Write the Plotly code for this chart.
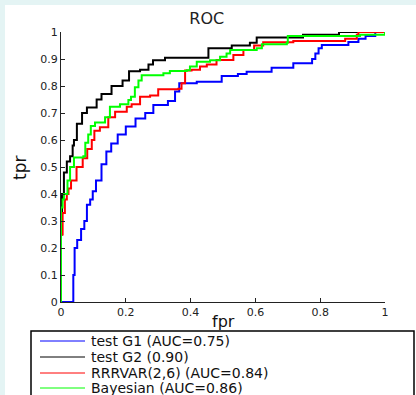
import plotly.graph_objects as go

# ---------------- data ----------------
series_names = ["test G1 (AUC=0.75)", "test G2 (0.90)", "RRRVAR(2,6) (AUC=0.84)", "Bayesian (AUC=0.86)"]
series_colors = ["#0000ff", "#000000", "#ff0000", "#00ff00"]

g1_fpr = [0, 0.038, 0.042, 0.05, 0.062, 0.072, 0.08, 0.09, 0.098, 0.108, 0.125, 0.14, 0.155, 0.175, 0.2,
          0.23, 0.26, 0.285, 0.33, 0.352, 0.365, 0.419, 0.496, 0.546, 0.573, 0.65, 0.717, 0.775, 0.785,
          0.795, 0.805, 0.887, 0.918, 0.94, 0.97, 1.0]
g1_tpr = [0, 0.1, 0.2, 0.23, 0.27, 0.3, 0.36, 0.38, 0.41, 0.45, 0.51, 0.557, 0.587, 0.62, 0.65,
          0.68, 0.70, 0.73, 0.744, 0.78, 0.81, 0.816, 0.837, 0.844, 0.853, 0.868, 0.884, 0.90, 0.92,
          0.94, 0.952, 0.963, 0.975, 0.985, 1.0, 1.0]

g2_fpr = [0, 0, 0.003, 0.009, 0.018, 0.028, 0.036, 0.04, 0.049, 0.065, 0.08, 0.11, 0.125, 0.156, 0.19,
          0.21, 0.244, 0.27, 0.284, 0.321, 0.455, 0.527, 0.583, 0.604, 0.747, 0.858, 1.0]
g2_tpr = [0, 0.25, 0.4, 0.48, 0.52, 0.54, 0.58, 0.6, 0.66, 0.70, 0.72, 0.75, 0.77, 0.80, 0.82,
          0.855, 0.86, 0.88, 0.895, 0.905, 0.94, 0.95, 0.96, 0.98, 0.99, 1.0, 1.0]

rr_fpr = [0, 0, 0.005, 0.012, 0.018, 0.023, 0.031, 0.048, 0.067, 0.081, 0.095, 0.103, 0.12, 0.146, 0.167,
          0.203, 0.218, 0.244, 0.275, 0.3, 0.362, 0.372, 0.383, 0.403, 0.429, 0.45, 0.48, 0.532, 0.563,
          0.596, 0.624, 0.717, 0.877, 0.913, 0.918, 1.0]
rr_tpr = [0, 0.25, 0.33, 0.38, 0.4, 0.42, 0.45, 0.5, 0.532, 0.567, 0.6, 0.634, 0.647, 0.684, 0.705,
          0.723, 0.732, 0.76, 0.765, 0.788, 0.79, 0.81, 0.857, 0.86, 0.872, 0.88, 0.896, 0.915, 0.933,
          0.95, 0.962, 0.967, 0.975, 0.99, 1.0, 1.0]

by_fpr = [0, 0, 0.005, 0.009, 0.02, 0.028, 0.04, 0.069, 0.075, 0.084, 0.092, 0.105, 0.136, 0.151, 0.182,
          0.208, 0.216, 0.228, 0.239, 0.249, 0.316, 0.336, 0.388, 0.398, 0.419, 0.46, 0.491, 0.511, 0.522,
          0.604, 0.62, 0.697, 0.70, 0.923, 1.0]
by_tpr = [0, 0.35, 0.38, 0.4, 0.45, 0.5, 0.535, 0.54, 0.59, 0.62, 0.652, 0.665, 0.684, 0.723, 0.732,
          0.748, 0.76, 0.795, 0.82, 0.84, 0.847, 0.856, 0.858, 0.872, 0.89, 0.895, 0.908, 0.92, 0.933,
          0.94, 0.955, 0.96, 0.985, 0.99, 1.0]

series_fpr = [g1_fpr, g2_fpr, rr_fpr, by_fpr]
series_tpr = [g1_tpr, g2_tpr, rr_tpr, by_tpr]

x_tick_vals = [0, 0.2, 0.4, 0.6, 0.8, 1]
x_tick_text = ["0", "0.2", "0.4", "0.6", "0.8", "1"]
y_tick_vals = [0, 0.1, 0.2, 0.3, 0.4, 0.5, 0.6, 0.7, 0.8, 0.9, 1]
y_tick_text = ["0", "0.1", "0.2", "0.3", "0.4", "0.5", "0.6", "0.7", "0.8", "0.9", "1"]

# ---------------- layout geometry (pixels) ----------------
W, H = 416, 395
L, R, T, B = 61, 385, 32, 302
FONT = "DejaVu Sans"


def px_x(px):
    return (px - L) / (R - L)


def px_y(py):
    return (B - py) / (B - T)


fig = go.Figure()
for name, col, xs, ys in zip(series_names, series_colors, series_fpr, series_tpr):
    fig.add_trace(go.Scatter(x=xs, y=ys, mode="lines", name=name,
                             line=dict(color=col, width=2, shape="hv"),
                             showlegend=False))

shapes = []
# white figure area over light cyan page border
shapes.append(dict(type="rect", xref="paper", yref="paper", layer="below",
                   x0=px_x(5), x1=px_x(430), y0=px_y(410), y1=px_y(5),
                   fillcolor="white", line=dict(width=0)))
# legend box
shapes.append(dict(type="rect", xref="paper", yref="paper",
                   x0=px_x(31), x1=px_x(414), y0=px_y(430), y1=px_y(331),
                   fillcolor="white", line=dict(color="black", width=1.5)))
annotations = []
legend_rows = [341, 357, 373, 388]
for name, col, ry in zip(series_names, series_colors, legend_rows):
    shapes.append(dict(type="line", xref="paper", yref="paper",
                       x0=px_x(40), x1=px_x(85), y0=px_y(ry), y1=px_y(ry),
                       line=dict(color=col, width=1)))
    annotations.append(dict(text=name, xref="paper", yref="paper",
                            x=px_x(89), y=px_y(ry), xanchor="left", yanchor="middle",
                            showarrow=False, font=dict(family=FONT, size=14, color="#111111")))

# axis titles
annotations.append(dict(text="fpr", xref="paper", yref="paper", x=px_x(223), y=px_y(322),
                        xanchor="center", yanchor="middle", showarrow=False,
                        font=dict(family=FONT, size=16, color="#111111")))
annotations.append(dict(text="tpr", xref="paper", yref="paper", x=px_x(20), y=px_y(168),
                        xanchor="center", yanchor="middle", showarrow=False, textangle=-90,
                        font=dict(family=FONT, size=17, color="#111111")))

fig.update_layout(
    width=W, height=H,
    margin=dict(l=L, r=W - R, t=T, b=H - B, pad=0),
    paper_bgcolor="#e4f4f4",
    plot_bgcolor="white",
    title=dict(text="ROC", x=px_x(222), xanchor="center", y=1 - 18 / H, yanchor="middle",
               font=dict(family=FONT, size=16, color="#222222")),
    xaxis=dict(range=[0, 1], tickvals=x_tick_vals, ticktext=x_tick_text,
               showgrid=False, zeroline=False, showline=True, linecolor="#222222", linewidth=1,
               ticks="inside", ticklen=4, tickcolor="#222222",
               tickfont=dict(family=FONT, size=11, color="#222222")),
    yaxis=dict(range=[0, 1], tickvals=y_tick_vals, ticktext=y_tick_text,
               showgrid=False, zeroline=False, showline=True, linecolor="#222222", linewidth=1,
               ticks="inside", ticklen=4, tickcolor="#222222",
               tickfont=dict(family=FONT, size=11, color="#222222")),
    shapes=shapes,
    annotations=annotations,
    font=dict(family=FONT),
)

fig.write_html("out.html", config={"displayModeBar": False},
               post_script="document.body.style.margin='0';document.body.style.padding='0';")
